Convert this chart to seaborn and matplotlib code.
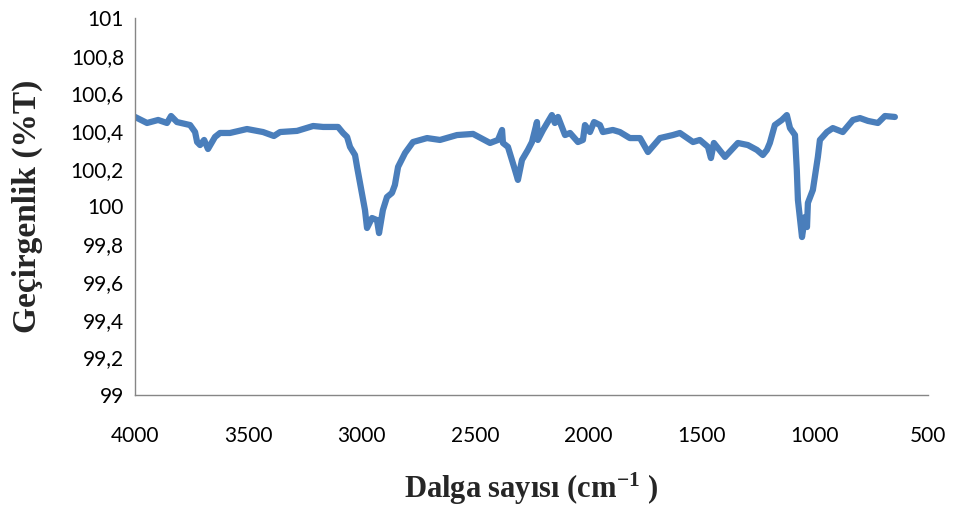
import matplotlib
matplotlib.use("Agg")
import matplotlib.pyplot as plt
import seaborn as sns
import numpy as np
import pandas as pd

# FTIR spectrum: wavenumber (cm-1) and transmittance (%T)
wavenumber = [4000, 3947, 3898, 3859, 3841, 3815, 3757, 3735, 3726, 3713, 3695, 3678,
              3647, 3625, 3581, 3506, 3435, 3387, 3360, 3285, 3214, 3170, 3104, 3082,
              3064, 3051, 3029, 3020, 3007, 2985, 2976, 2954, 2932, 2923, 2906, 2888,
              2866, 2853, 2839, 2808, 2773, 2711, 2654, 2579, 2508, 2433, 2398, 2380,
              2376, 2354, 2323, 2310, 2292, 2266, 2248, 2226, 2222, 2199, 2160, 2147,
              2133, 2102, 2080, 2045, 2023, 2014, 1992, 1974, 1948, 1935, 1891, 1860,
              1816, 1771, 1736, 1683, 1626, 1595, 1537, 1507, 1471, 1458, 1445, 1396,
              1339, 1295, 1255, 1229, 1211, 1198, 1176, 1145, 1123, 1109, 1087, 1079,
              1074, 1056, 1043, 1034, 1030, 1008, 986, 977, 946, 920, 876, 831,
              800, 765, 721, 690, 646]
transmittance = [100.475, 100.443, 100.459, 100.443, 100.480, 100.448, 100.432, 100.395,
                 100.342, 100.326, 100.353, 100.305, 100.369, 100.390, 100.390, 100.411,
                 100.395, 100.374, 100.395, 100.401, 100.427, 100.422, 100.422, 100.390,
                 100.369, 100.316, 100.273, 100.210, 100.125, 99.981, 99.886, 99.939,
                 99.928, 99.859, 99.981, 100.050, 100.072, 100.114, 100.210, 100.284,
                 100.342, 100.363, 100.353, 100.379, 100.385, 100.337, 100.353, 100.406,
                 100.337, 100.316, 100.194, 100.141, 100.247, 100.300, 100.342, 100.448,
                 100.353, 100.406, 100.485, 100.443, 100.475, 100.379, 100.390, 100.342,
                 100.353, 100.432, 100.395, 100.448, 100.432, 100.395, 100.406, 100.395,
                 100.363, 100.363, 100.289, 100.363, 100.379, 100.390, 100.342, 100.353,
                 100.316, 100.257, 100.337, 100.263, 100.337, 100.326, 100.300, 100.273,
                 100.300, 100.337, 100.432, 100.459, 100.485, 100.416, 100.379, 100.194,
                 100.034, 99.838, 99.944, 99.891, 100.019, 100.088, 100.263, 100.353,
                 100.395, 100.416, 100.395, 100.459, 100.469, 100.454, 100.443, 100.480,
                 100.475]

x_ticks = [4000, 3500, 3000, 2500, 2000, 1500, 1000, 500]
y_ticks = [99, 99.2, 99.4, 99.6, 99.8, 100, 100.2, 100.4, 100.6, 100.8, 101]

df = pd.DataFrame({"wn": wavenumber, "T": transmittance})

sns.set_theme(style="white")
plt.rcParams["mathtext.fontset"] = "custom"
plt.rcParams["mathtext.rm"] = "Liberation Serif:bold"
plt.rcParams["mathtext.default"] = "rm"

fig = plt.figure(figsize=(9.55, 5.11), dpi=100)
ax = fig.add_axes([0.1414, 0.227, 0.8303, 0.7378])

sns.lineplot(data=df, x="wn", y="T", sort=False, estimator=None,
             color="#4a7ebb", linewidth=4.5, ax=ax,
             solid_capstyle="round", solid_joinstyle="round")

ax.set_xlim(4000, 500)
ax.set_ylim(99, 101)
ax.set_xticks(x_ticks)
ax.set_yticks(y_ticks)
ax.set_xticklabels([str(t) for t in x_ticks], fontfamily="Lato", fontsize=15)
ax.set_yticklabels([("%g" % t).replace(".", ",") for t in y_ticks],
                   fontfamily="Lato", fontsize=15)
ax.tick_params(axis="both", length=0, pad=8, colors="#000000")
ax.tick_params(axis="x", pad=22)

for side in ["top", "right"]:
    ax.spines[side].set_visible(False)
for side in ["left", "bottom"]:
    ax.spines[side].set_color("#868686")
    ax.spines[side].set_linewidth(1.0)

ax.set_xlabel("Dalga sayısı (cm$^{-1}$ )", fontfamily="Liberation Serif",
              fontweight="bold", fontsize=22, labelpad=18)
ax.set_ylabel("Geçirgenlik (%T)", fontfamily="Liberation Serif",
              fontweight="bold", fontsize=24, labelpad=20)

fig.savefig("out.png", dpi=100)
